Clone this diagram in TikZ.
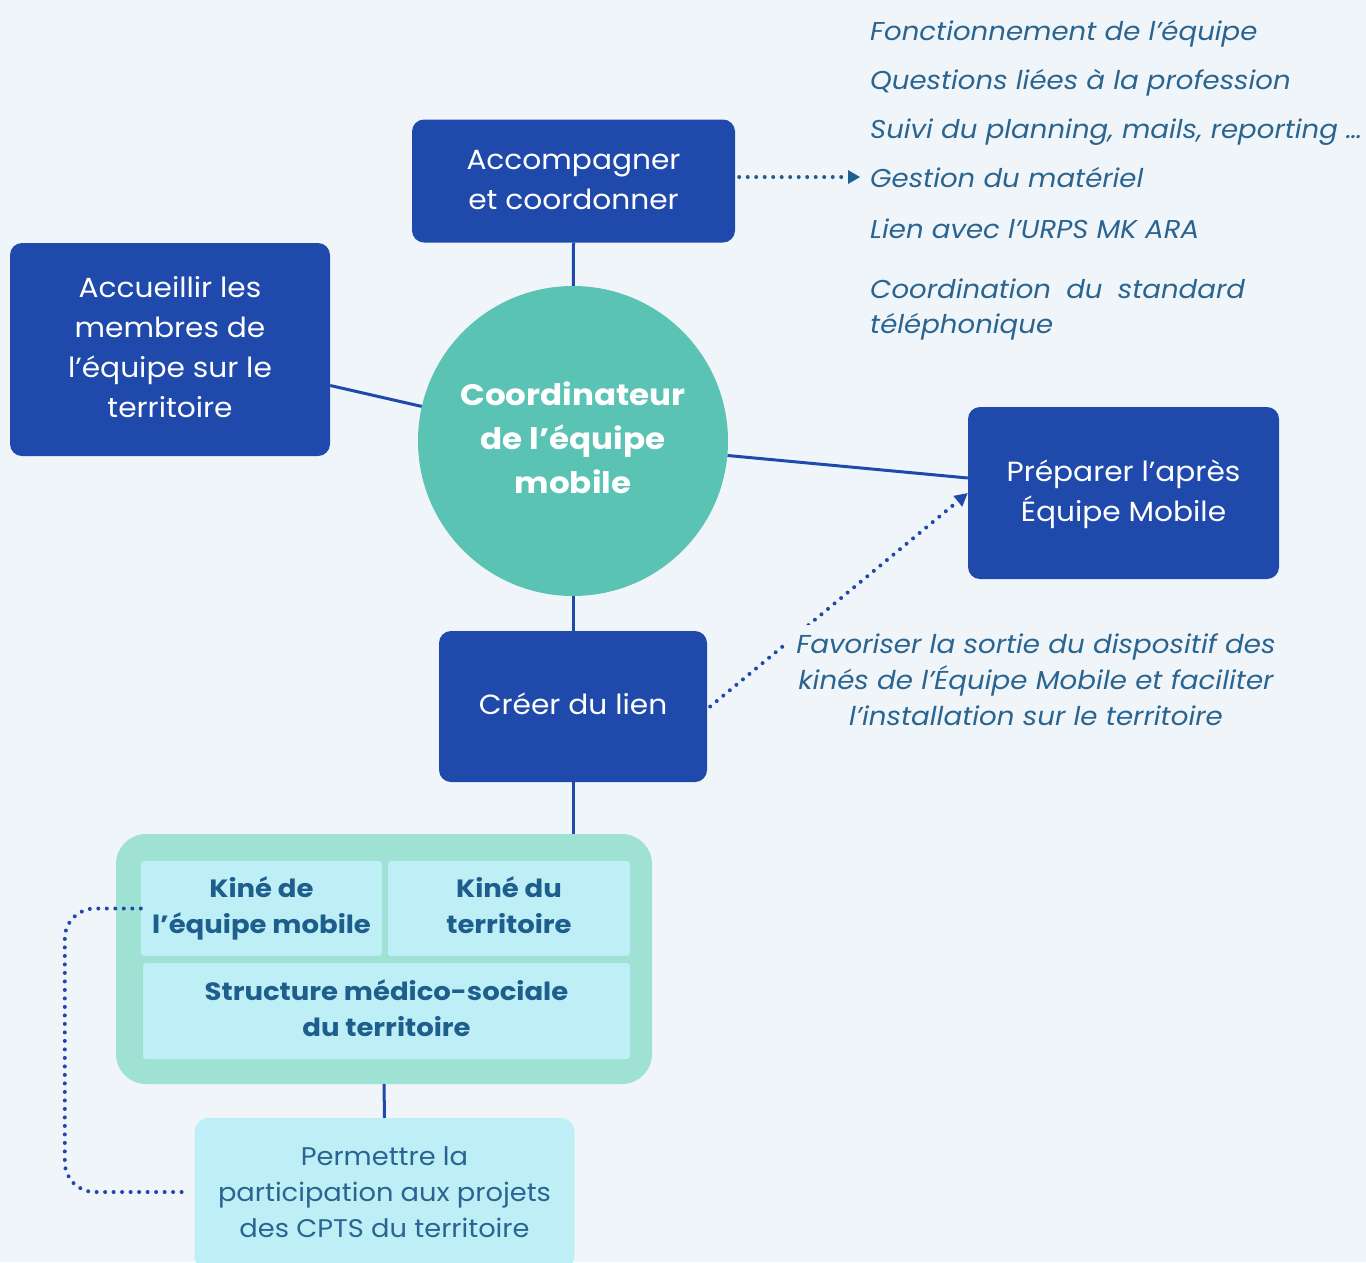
\documentclass[tikz,border=0pt]{standalone}
\usepackage{fontspec}
\setmainfont{Poppins}[FakeStretch=1.07]
\newfontfamily\boldfam{Poppins}[FakeStretch=1.1]
\usetikzlibrary{arrows.meta}
\definecolor{bgc}{HTML}{F0F5F9}
\definecolor{dblue}{HTML}{1F4AAB}
\definecolor{tealc}{HTML}{5BC3B4}
\definecolor{greenc}{HTML}{9FE1D2}
\definecolor{cyanc}{HTML}{BEEFF6}
\definecolor{boldtxt}{HTML}{1E5E8C}
\definecolor{itxt}{HTML}{2A6491}
\definecolor{dotc}{HTML}{1F5F90}
\begin{document}
\begin{tikzpicture}[x=1pt,y=-1pt,
  bluebox/.style={rectangle,rounded corners=12pt,fill=dblue,text=white,align=center,inner sep=0pt,font=\fontsize{27.7}{40}\selectfont},
  cell/.style={rectangle,rounded corners=3pt,fill=cyanc,text=boldtxt,align=center,inner sep=0pt,font=\fontsize{25}{36}\boldfam\bfseries},
  conn/.style={draw=dblue,line width=3pt},
  dotline/.style={line width=4pt,line cap=round,dash pattern=on 0pt off 8.5pt},
  itlist/.style={anchor=base west,inner sep=0pt,text=itxt,font=\fontsize{25.8}{36}\selectfont\itshape},
]
\fill[bgc] (0,0) rectangle (1366,1262);
\useasboundingbox (0,0) rectangle (1366,1262);

% nodes
\node[bluebox,minimum width=323pt,minimum height=123pt] (acc) at (573.5,181) {\strut Accompagner\\et coordonner\strut};
\node[bluebox,minimum width=320pt,minimum height=213pt] (accu) at (170,349.5) {\strut Accueillir les\\membres de\\l’équipe sur le\\territoire\strut};
\node[circle,fill=tealc,minimum size=310pt,inner sep=0pt,text=white,align=center,font=\fontsize{29.6}{44}\boldfam\bfseries] (coord) at (573,441) {\strut Coordinateur\\de l’équipe\\mobile\strut};
\node[bluebox,minimum width=311pt,minimum height=172pt] (prep) at (1123.5,493) {\strut Préparer l’après\\Équipe Mobile\strut};
\node[bluebox,minimum width=268pt,minimum height=151pt] (crea) at (573,706.5) {\strut Créer du lien\strut};

\node[rectangle,rounded corners=30pt,fill=greenc,minimum width=536pt,minimum height=250pt,inner sep=0pt] (grp) at (384,959) {};
\node[cell,minimum width=241pt,minimum height=95pt] (k1) at (261.5,908.5) {\strut Kiné de\\l’équipe mobile\strut};
\node[cell,minimum width=242pt,minimum height=95pt] (k2) at (509,908.5) {\strut Kiné du\\territoire\strut};
\node[cell,minimum width=487pt,minimum height=96pt] (st) at (386.5,1011) {\strut Structure médico-sociale\\du territoire\strut};

\node[rectangle,rounded corners=14pt,fill=cyanc,minimum width=380pt,minimum height=152pt,inner sep=0pt,text=itxt,align=center,font=\fontsize{25.5}{36}\selectfont] (perm) at (384.5,1194) {\strut Permettre la\\participation aux projets\\des CPTS du territoire\strut};

% list
\node[itlist] (l1) at (870,40) {Fonctionnement de l’équipe};
\node[itlist] (l2) at (870,89) {Questions liées à la profession};
\node[itlist] (l3) at (870,138) {Suivi du planning, mails, reporting …};
\node[itlist] (l4) at (870,187) {Gestion du matériel};
\node[itlist] (l5) at (870,238) {Lien avec l’URPS MK ARA};
\node[itlist] (l6) at (870,298) {Coordination\hspace{7pt} du\hspace{7pt} standard};
\node[itlist] (l7) at (870,333) {téléphonique};

% connectors
\draw[conn] (acc.south) -- (coord);
\draw[conn] (crea.north) -- (coord);
\draw[conn] (crea.south) -- (crea.south |- grp.north);
\draw[conn] (grp.south) -- (perm.north);
\draw[conn] ([yshift=-36pt]accu.east) -- (coord);
\draw[conn] (coord) -- ([yshift=15pt]prep.west);

\coordinate (gtip) at ([xshift=-10pt]l4.west);
\draw[dotline,draw=dotc] ([xshift=4pt]acc.east |- gtip) -- ([xshift=-17pt]gtip);
\fill[dotc] (gtip) -- ++(-12,-7) -- ++(0,14) -- cycle;

\draw[dotline,draw=dblue,-{Triangle[length=13pt,width=13pt]}] ([xshift=3pt]crea.east) -- (prep.west);
\node[fill=bgc,inner sep=9pt,text=itxt,align=center,font=\fontsize{25.9}{36}\selectfont\itshape] (fav) at (1036,680) {Favoriser la sortie du dispositif des\\kinés de l’Équipe Mobile et faciliter\\l’installation sur le territoire};

\draw[dotline,draw=dblue,rounded corners=30pt] (k1.west) -- ++(-76,0) |- ([xshift=-8pt]perm.west |- 0,1192);
\end{tikzpicture}
\end{document}
